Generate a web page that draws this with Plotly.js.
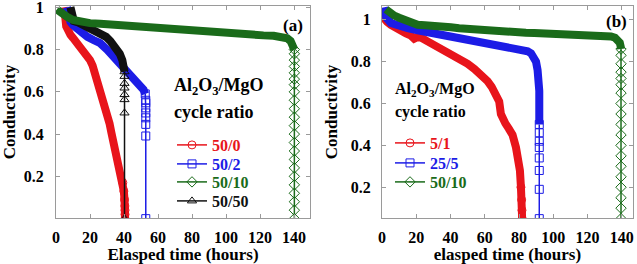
<!DOCTYPE html>
<html>
<head>
<meta charset="utf-8">
<script src="https://cdn.plot.ly/plotly-3.0.1.min.js"></script>
<style>html,body{margin:0;padding:0;background:#fff;}#chart{width:637px;height:264px;}</style>
</head>
<body>
<div id="chart"></div>
<script>
// ---------- Panel (a): Al2O3/MgO cycle ratio 50/0, 50/2, 50/10, 50/50 ----------
const a_t_50_0 = [4.5, 5.0, 5.5, 6.0, 7, 8.5, 10, 12, 14, 16, 18, 20, 21.5, 22.5, 23.5, 24.5, 25.5, 26.5, 27.5, 28.5, 29.5, 30.5, 31.5, 32.5, 33.5, 34.5, 35.5, 36.5, 37.5, 38.5, 39.3, 39.9, 40.3, 40.5, 40.6, 40.6, 40.6];
const a_c_50_0 = [1.0, 0.985, 0.95, 0.91, 0.885, 0.87, 0.855, 0.835, 0.815, 0.795, 0.775, 0.75, 0.725, 0.70, 0.67, 0.64, 0.61, 0.58, 0.555, 0.53, 0.505, 0.48, 0.45, 0.41, 0.375, 0.34, 0.31, 0.28, 0.25, 0.21, 0.17, 0.13, 0.09, 0.06, 0.04, 0.02, 0.0];
const a_mark_50_0 = 30;

const a_t_50_2 = [6.5, 7, 7.5, 8.5, 10, 12, 15, 18.5, 22, 26, 30, 33, 35.5, 37.5, 40, 42.5, 45.5, 48, 50, 51.5, 52.5, 52.8, 52.8, 52.8, 52.8, 52.8, 52.8, 52.8, 52.8];
const a_c_50_2 = [1.0, 0.985, 0.95, 0.93, 0.915, 0.9, 0.88, 0.86, 0.845, 0.83, 0.80, 0.775, 0.75, 0.725, 0.705, 0.69, 0.67, 0.65, 0.63, 0.61, 0.59, 0.56, 0.548, 0.524, 0.5, 0.477, 0.446, 0.391, 0.0];
const a_mark_50_2 = 20;

const a_t_50_10 = [0.5, 2, 4, 6.5, 10, 14.5, 20, 26, 32, 38, 45, 52, 58, 65, 72, 78, 85, 92, 98, 104, 110, 116, 122, 128, 133, 136, 138, 139.5, 140.2,
  140.2, 140.2, 140.2, 140.2, 140.2, 140.2, 140.2, 140.2, 140.2, 140.2, 140.2, 140.2, 140.2, 140.2, 140.2, 140.2, 140.2, 140.2, 140.2, 140.2, 140.2, 140.2];
const a_c_50_10 = [0.99, 0.98, 0.965, 0.955, 0.94, 0.93, 0.925, 0.922, 0.918, 0.915, 0.914, 0.91, 0.906, 0.9, 0.895, 0.89, 0.885, 0.882, 0.879, 0.876, 0.872, 0.87, 0.867, 0.865, 0.86, 0.853, 0.84, 0.815, 0.8,
  0.78, 0.75, 0.72, 0.69, 0.66, 0.634, 0.6, 0.56, 0.52, 0.48, 0.44, 0.4, 0.36, 0.32, 0.28, 0.24, 0.2, 0.16, 0.12, 0.08, 0.04, 0.0];
const a_mark_50_10 = 28;

const a_t_50_50 = [8.5, 9, 9.3, 10.5, 12.5, 15, 18.5, 21.5, 24.5, 27, 29.5, 32, 34, 36, 37.5, 39, 40, 40.3, 40.3, 40.3, 40.3, 40.3, 40.3, 40.3, 40.3];
const a_c_50_50 = [1.0, 0.97, 0.945, 0.935, 0.93, 0.92, 0.91, 0.895, 0.885, 0.875, 0.86, 0.84, 0.82, 0.80, 0.78, 0.75, 0.72, 0.695, 0.673, 0.64, 0.618, 0.587, 0.563, 0.5, 0.0];
const a_mark_50_50 = 17;

// ---------- Panel (b): 5/1, 25/5, 50/10 ----------
const b_t_5_1 = [0, 1.3, 3, 5.2, 8, 11, 14, 16.9, 18.8, 20, 22.7, 26.6, 30.5, 34, 38, 42, 46, 50, 54, 57.7, 61.6, 64, 66.5, 68.4, 69.4, 70.4, 72, 74, 76.2, 78.2, 79.5, 80.5, 81.1, 81.5, 81.7, 81.8];
const b_c_5_1 = [1.02, 1.0, 0.99, 0.976, 0.96, 0.945, 0.935, 0.925, 0.91, 0.915, 0.915, 0.897, 0.88, 0.865, 0.845, 0.825, 0.81, 0.79, 0.765, 0.74, 0.707, 0.68, 0.645, 0.61, 0.55, 0.525, 0.505, 0.48, 0.45, 0.39, 0.34, 0.28, 0.2, 0.14, 0.09, 0.05];
const b_mark_5_1 = 32;

const b_t_25_5 = [1.3, 1.5, 2.5, 5.2, 8, 11, 15, 20.8, 25, 30.5, 35, 40.2, 45, 50, 55, 59.7, 65, 69.4, 75, 79.1, 83, 85, 87, 88.5, 89.9, 90.8, 91.5, 91.8,
  91.8, 91.8, 91.8, 91.8, 91.8, 91.8, 91.8, 91.8, 91.8, 91.8, 91.8];
const b_c_25_5 = [1.06, 1.03, 1.01, 0.985, 0.975, 0.97, 0.96, 0.95, 0.944, 0.937, 0.93, 0.92, 0.912, 0.905, 0.897, 0.89, 0.885, 0.88, 0.872, 0.865, 0.858, 0.85, 0.84, 0.826, 0.8, 0.76, 0.72, 0.69,
  0.66, 0.6, 0.55, 0.5, 0.46, 0.42, 0.39, 0.34, 0.28, 0.19, 0.05];
const b_mark_25_5 = 31;

const b_t_50_10 = [2.3, 4, 7.2, 10, 13, 17, 20.8, 25, 30.5, 35, 40.2, 45, 50, 55, 59.7, 65, 69.4, 75, 79.1, 84, 88.9, 94, 98.6, 104, 108.4, 113, 118, 123, 127.8, 131, 133.7, 136, 137.6, 138.8, 139.3, 139.5,
  139.5, 139.5, 139.5, 139.5, 139.5, 139.5, 139.5, 139.5, 139.5, 139.5, 139.5, 139.5, 139.5, 139.5, 139.5, 139.5, 139.5, 139.5];
const b_c_50_10 = [1.05, 1.035, 1.02, 1.01, 1.0, 0.985, 0.976, 0.974, 0.973, 0.97, 0.964, 0.96, 0.956, 0.953, 0.95, 0.947, 0.945, 0.942, 0.94, 0.938, 0.937, 0.935, 0.933, 0.932, 0.932, 0.93, 0.929, 0.929, 0.929, 0.926, 0.92, 0.914, 0.905, 0.89, 0.873, 0.86,
  0.83, 0.79, 0.75, 0.72, 0.69, 0.65, 0.6, 0.55, 0.5, 0.45, 0.4, 0.35, 0.3, 0.25, 0.2, 0.15, 0.1, 0.05];
const b_mark_50_10 = 35;

const xTicks = [0, 20, 40, 60, 80, 100, 120, 140];
const yTicks = [0.2, 0.4, 0.6, 0.8, 1];
const yTickText = ['0.2', '0.4', '0.6', '0.8', '1'];

// ---------- styles ----------
const RED = '#e8141b', BLUE = '#1c1ce6', GREEN = '#1a6b1a', BLACK = '#111111';
const FONT = 'Liberation Serif';

const traces = [];
// thick band = dense overlapping markers of the original; thin line + open markers = sparse part
function addSeries(t, c, markFrom, color, symbol, label, xa, ya, legendId, rank) {
  const last = t.length;
  const bandEnd = (markFrom <= last - 8) ? markFrom + 1 : last;
  traces.push({
    x: t.slice(0, bandEnd), y: c.slice(0, bandEnd), xaxis: xa, yaxis: ya,
    mode: 'lines', line: {color: color, width: 8}, showlegend: false, hoverinfo: 'skip'
  });
  traces.push({
    x: t.slice(markFrom), y: c.slice(markFrom), xaxis: xa, yaxis: ya,
    mode: 'lines+markers', line: {color: color, width: 1.5},
    marker: {symbol: symbol, size: 8, color: color, line: {width: 1, color: color}},
    name: '<span style="color:' + color + '">' + label + '</span>',
    legend: legendId, legendrank: rank
  });
}
addSeries(a_t_50_0, a_c_50_0, a_mark_50_0, RED, 'circle-open', '50/0', 'x', 'y', 'legend', 1);
addSeries(a_t_50_2, a_c_50_2, a_mark_50_2, BLUE, 'square-open', '50/2', 'x', 'y', 'legend2', 2);
addSeries(a_t_50_50, a_c_50_50, a_mark_50_50, BLACK, 'triangle-up-open', '50/50', 'x', 'y', 'legend4', 4);
addSeries(a_t_50_10, a_c_50_10, a_mark_50_10, GREEN, 'diamond-open', '50/10', 'x', 'y', 'legend3', 3);
addSeries(b_t_5_1, b_c_5_1, b_mark_5_1, RED, 'circle-open', '5/1', 'x2', 'y2', 'legend5', 5);
addSeries(b_t_25_5, b_c_25_5, b_mark_25_5, BLUE, 'square-open', '25/5', 'x2', 'y2', 'legend6', 6);
addSeries(b_t_50_10, b_c_50_10, b_mark_50_10, GREEN, 'diamond-open', '50/10', 'x2', 'y2', 'legend7', 7);

// pixel helpers (plot area: left 56, top 6, width 577, height 212)
const M = {l: 56, r: 4, t: 6, b: 46};
const PW = 637 - M.l - M.r, PH = 264 - M.t - M.b;
const px = v => (v - M.l) / PW;
const py = v => (264 - M.b - v) / PH;

function legendAt(xpx, ypx) {
  return {x: px(xpx), y: py(ypx), xanchor: 'left', yanchor: 'middle', bgcolor: 'rgba(0,0,0,0)',
    borderwidth: 0, font: {family: FONT, size: 16, weight: 'bold'}, itemclick: false, itemdoubleclick: false};
}

const axBase = {
  showgrid: false, zeroline: false, showline: true, linecolor: '#9a9a9a', linewidth: 1,
  ticks: 'inside', ticklen: 4, tickcolor: '#9a9a9a', mirror: 'ticks', ticklabeloverflow: 'allow',
  tickfont: {family: FONT, size: 16, weight: 'bold', color: '#000'}
};

const layout = {
  width: 637, height: 264, margin: M, paper_bgcolor: '#fff', plot_bgcolor: '#fff',
  font: {family: FONT, size: 16, weight: 'bold', color: '#000'},
  xaxis: Object.assign({}, axBase, {domain: [0, px(310)], range: [0, 149.4], tickvals: xTicks, anchor: 'y', ticklabelstandoff: 5,
    title: {text: 'Elasped time (hours)', font: {family: FONT, size: 17, weight: 'bold'}, standoff: 4}}),
  yaxis: Object.assign({}, axBase, {domain: [0, 1], range: [0.003, 1.006], tickvals: yTicks, ticktext: yTickText, anchor: 'x', ticklabelstandoff: 8,
    title: {text: 'Conductivity', font: {family: FONT, size: 17, weight: 'bold'}, standoff: 12}}),
  xaxis2: Object.assign({}, axBase, {domain: [px(382), 1], range: [0, 146.5], tickvals: xTicks, anchor: 'y2', ticklabelstandoff: 5,
    title: {text: 'elasped time (hours)', font: {family: FONT, size: 17, weight: 'bold'}, standoff: 4}}),
  yaxis2: Object.assign({}, axBase, {domain: [0, 1], range: [0.053, 1.066], tickvals: yTicks, ticktext: yTickText, anchor: 'x2', ticklabelstandoff: 7,
    title: {text: 'Conductivity', font: {family: FONT, size: 17, weight: 'bold'}, standoff: 8}}),
  legend: legendAt(172, 145),
  legend2: legendAt(172, 164),
  legend3: legendAt(172, 182),
  legend4: legendAt(172, 201),
  legend5: legendAt(390, 143),
  legend6: legendAt(390, 163),
  legend7: legendAt(390, 182),
  annotations: [
    {xref: 'paper', yref: 'paper', x: px(172), y: py(86), xanchor: 'left', yanchor: 'middle', showarrow: false,
      text: 'Al<sub>2</sub>O<sub>3</sub>/MgO', font: {family: FONT, size: 18, weight: 'bold'}},
    {xref: 'paper', yref: 'paper', x: px(172), y: py(112), xanchor: 'left', yanchor: 'middle', showarrow: false,
      text: 'cycle ratio', font: {family: FONT, size: 18, weight: 'bold'}},
    {xref: 'paper', yref: 'paper', x: px(393), y: py(89), xanchor: 'left', yanchor: 'middle', showarrow: false,
      text: 'Al<sub>2</sub>O<sub>3</sub>/MgO', font: {family: FONT, size: 16, weight: 'bold'}},
    {xref: 'paper', yref: 'paper', x: px(393), y: py(112), xanchor: 'left', yanchor: 'middle', showarrow: false,
      text: 'cycle ratio', font: {family: FONT, size: 16, weight: 'bold'}},
    {xref: 'paper', yref: 'paper', x: px(293), y: py(25), xanchor: 'center', yanchor: 'middle', showarrow: false,
      text: '(a)', font: {family: FONT, size: 17, weight: 'bold'}},
    {xref: 'paper', yref: 'paper', x: px(616), y: py(22), xanchor: 'center', yanchor: 'middle', showarrow: false,
      text: '(b)', font: {family: FONT, size: 17, weight: 'bold'}}
  ]
};

Plotly.newPlot('chart', traces, layout, {staticPlot: true, displayModeBar: false});
</script>
</body>
</html>
